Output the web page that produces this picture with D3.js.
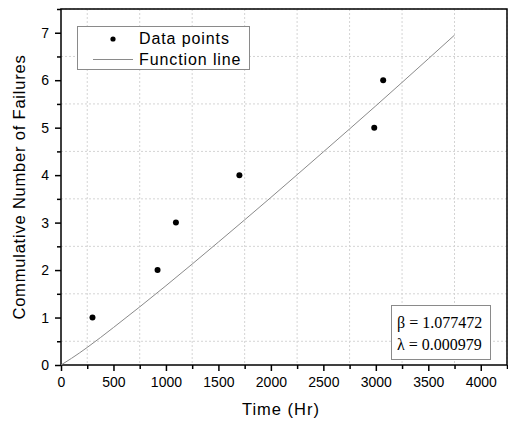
<!DOCTYPE html>
<html>
<head>
<meta charset="utf-8">
<script src="https://cdn.jsdelivr.net/npm/d3@7"></script>
<style>
  body { margin: 0; background: #fff; }
  svg { font-family: "Liberation Sans", Arial, sans-serif; }
</style>
</head>
<body>
<div id="chart-area"></div>
<script>
// observed failures
let failureTimes = [300, 920, 1095, 1700, 2985, 3070]
let failureCounts = [1, 2, 3, 4, 5, 6]

// fitted function line
let lineTimes = [0, 100, 250, 500, 1000, 1500, 2000, 2500, 3000, 3500, 3750]
let lineCounts = [0, 0.14, 0.37, 0.79, 1.67, 2.59, 3.53, 4.49, 5.46, 6.45, 6.95]

let xTicks = [0, 500, 1000, 1500, 2000, 2500, 3000, 3500, 4000]
let yTicks = [0, 1, 2, 3, 4, 5, 6, 7]
let params = ["β = 1.077472", "λ = 0.000979"]

let margin = { top: 9, right: 1, bottom: 57, left: 61 }
let width = 508 - margin.left - margin.right
let height = 422 - margin.top - margin.bottom

let svg = d3.select("#chart-area").append("svg")
  .attr("width", 508)
  .attr("height", 422)

let g = svg.append("g")
  .attr("transform", "translate(" + margin.left + "," + margin.top + ")")

let x = d3.scaleLinear().domain([0, 4250]).range([0, width])
let y = d3.scaleLinear().domain([0, 7.5]).range([height, 0])

let xMinor = d3.range(250, 4251, 500)
let yMinor = d3.range(0.5, 7.51, 1)

// dotted grid on minor positions
g.selectAll(".vgrid").data(xMinor).enter().append("line")
  .attr("x1", d => x(d)).attr("x2", d => x(d))
  .attr("y1", 0).attr("y2", height)
  .attr("stroke", "#d4d4d4").attr("stroke-dasharray", "2,2")
g.selectAll(".hgrid").data(yMinor).enter().append("line")
  .attr("y1", d => y(d)).attr("y2", d => y(d))
  .attr("x1", 0).attr("x2", width)
  .attr("stroke", "#d4d4d4").attr("stroke-dasharray", "2,2")

// axes
let xAxis = g.append("g")
  .attr("transform", "translate(0," + height + ")")
  .call(d3.axisBottom(x).tickValues(xTicks).tickSize(6).tickPadding(6).tickFormat(d3.format("d")))
let xAxisMinor = g.append("g")
  .attr("transform", "translate(0," + height + ")")
  .call(d3.axisBottom(x).tickValues(xMinor).tickSize(4).tickFormat(""))
let yAxis = g.append("g")
  .call(d3.axisLeft(y).tickValues(yTicks).tickSize(6).tickPadding(6))
let yAxisMinor = g.append("g")
  .call(d3.axisLeft(y).tickValues(yMinor).tickSize(4).tickFormat(""))

;[xAxis, xAxisMinor, yAxis, yAxisMinor].forEach(a => {
  a.select(".domain").remove()
  a.selectAll(".tick line").attr("stroke", "#000").attr("stroke-width", 1.5)
  a.selectAll("text").attr("font-size", 14).attr("fill", "#000")
    .attr("font-family", "Liberation Sans, Arial, sans-serif")
})

// frame
g.append("rect")
  .attr("width", width).attr("height", height)
  .attr("fill", "none").attr("stroke", "#000").attr("stroke-width", 1.5)

// function line
let lineData = lineTimes.map((t, i) => ({ t: t, n: lineCounts[i] }))
g.append("path")
  .datum(lineData)
  .attr("fill", "none")
  .attr("stroke", "#8a8a8a")
  .attr("stroke-width", 1)
  .attr("d", d3.line().x(d => x(d.t)).y(d => y(d.n)).curve(d3.curveMonotoneX))

// data points
g.selectAll(".pt").data(failureTimes).enter().append("circle")
  .attr("cx", d => x(d))
  .attr("cy", (d, i) => y(failureCounts[i]))
  .attr("r", 3)
  .attr("fill", "#000")

// legend
let legend = svg.append("g")
legend.append("rect")
  .attr("x", 77.5).attr("y", 26.5).attr("width", 172).attr("height", 43)
  .attr("fill", "#fff").attr("stroke", "#8a8a8a")
legend.append("circle").attr("cx", 113).attr("cy", 39).attr("r", 2.6).attr("fill", "#000")
legend.append("line").attr("x1", 93).attr("x2", 133).attr("y1", 59.5).attr("y2", 59.5)
  .attr("stroke", "#8a8a8a")
legend.append("text").attr("x", 139).attr("y", 44).attr("font-size", 16)
  .attr("letter-spacing", 0.9).text("Data points")
legend.append("text").attr("x", 139).attr("y", 65).attr("font-size", 16)
  .attr("letter-spacing", 0.9).text("Function line")

// parameter box
let pbox = svg.append("g")
pbox.append("rect")
  .attr("x", 391.5).attr("y", 305.5).attr("width", 99).attr("height", 54)
  .attr("fill", "#fff").attr("stroke", "#8a8a8a")
pbox.selectAll("text").data(params).enter().append("text")
  .attr("x", 397)
  .attr("y", (d, i) => 328 + i * 22)
  .attr("font-family", "Liberation Serif, Times New Roman, serif")
  .attr("font-size", 16)
  .text(d => d)

// axis titles
svg.append("text")
  .attr("x", margin.left + width / 2 - 3)
  .attr("y", 415)
  .attr("text-anchor", "middle")
  .attr("font-size", 16.5)
  .attr("letter-spacing", 1)
  .text("Time (Hr)")
svg.append("text")
  .attr("transform", "translate(25," + (margin.top + height / 2) + ") rotate(-90)")
  .attr("text-anchor", "middle")
  .attr("font-size", 16.5)
  .attr("letter-spacing", 0.8)
  .text("Commulative Number of Failures")
</script>
</body>
</html>
